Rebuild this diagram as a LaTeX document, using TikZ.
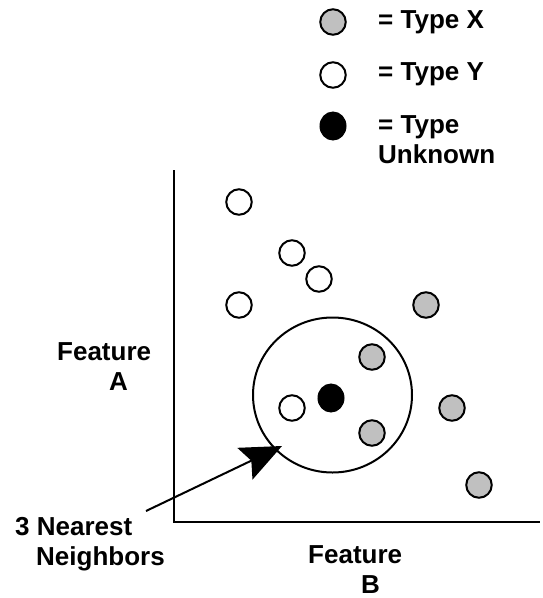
\documentclass[tikz,border=0pt]{standalone}
\usepackage{fontspec}
\setmainfont{Liberation Sans}
\usetikzlibrary{arrows.meta,shapes.geometric}
\definecolor{ptgray}{RGB}{192,192,192}
\begin{document}
\begin{tikzpicture}[x=1pt,y=-1pt,
  pt/.style={circle,draw=black,line width=2pt,minimum size=25.5pt,inner sep=0pt},
  ptx/.style={pt,fill=ptgray},
  pty/.style={pt,fill=white},
  ptu/.style={ellipse,draw=black,fill=black,line width=1pt,minimum width=26pt,minimum height=28pt,inner sep=0pt},
  lbl/.style={font=\fontsize{26}{30}\selectfont\bfseries,inner sep=0pt,align=left,anchor=base west},
  axisline/.style={line width=2.3pt},
  pointer/.style={line width=2pt,-{Stealth[length=41pt,width=35pt,inset=7pt]}}
]
\useasboundingbox (0,0) rectangle (542,598);
\fill[white] (0,0) rectangle (542,598);

% legend
\node[ptx] (lx) at (333,22) {};
\node[pty] (ly) at (333,75) {};
\node[ptu] (lu) at (333,126) {};
\node[lbl] (tx) at (378,28) {= Type X};
\node[lbl] (ty) at (378,80) {= Type Y};
\node[lbl] (tu) at (378,163) {= Type\\Unknown};

% axes
\coordinate (atop) at (174,170);
\coordinate (aorig) at (174,522);
\coordinate (aright) at (540,522);
\draw[axisline] (atop) -- (aorig) -- (aright);

% neighbourhood circle
\node[ellipse,draw=black,line width=2pt,minimum width=159pt,minimum height=155pt,inner sep=0pt] (nbr) at (332.5,395) {};

% points
\node[pty] (y1) at (239,202) {};
\node[pty] (y2) at (292,253) {};
\node[pty] (y3) at (319,279) {};
\node[pty] (y4) at (239,305) {};
\node[pty] (y5) at (292,408) {};
\node[ptx] (x1) at (426,305) {};
\node[ptx] (x2) at (372,357) {};
\node[ptx] (x3) at (372,433) {};
\node[ptx] (x4) at (452,408) {};
\node[ptx] (x5) at (479,485) {};
\node[ptu] (u) at (331,398) {};

% axis labels
\node[lbl] (fa) at (57,390) {Feature\\\hspace*{52pt}A};
\node[lbl] (fb) at (308,593) {Feature\\\hspace*{53pt}B};

% pointer label
\node[lbl] (nn) at (15,565) {3 Nearest\\\hspace*{21pt}Neighbors};
\coordinate (pstart) at (146,511);
\coordinate (ptip) at (282,446);
\draw[pointer] (pstart) -- (ptip);
\end{tikzpicture}
\end{document}
